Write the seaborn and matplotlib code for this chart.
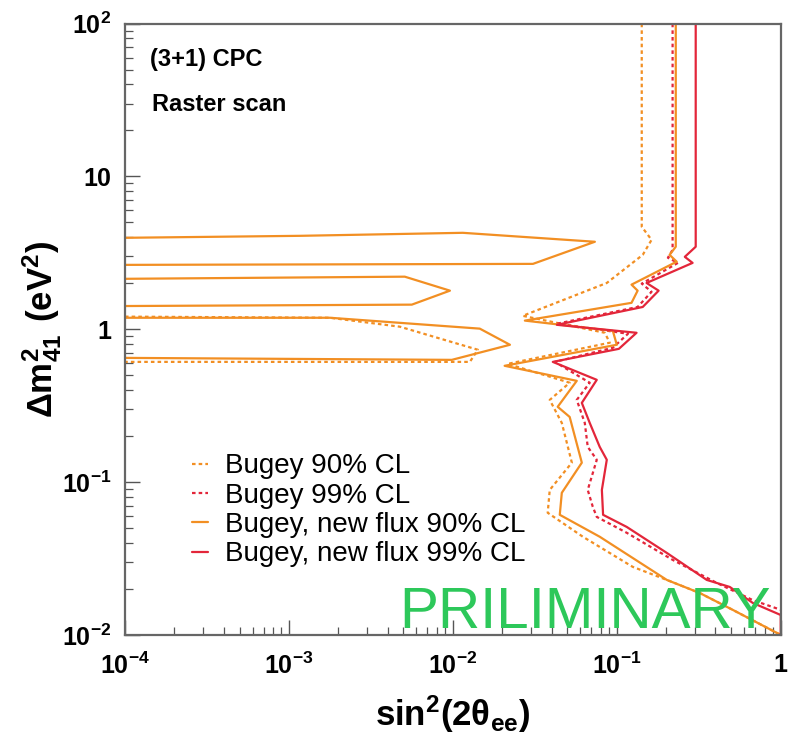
import pandas as pd
import seaborn as sns
import matplotlib.pyplot as plt

# Bugey 90% CL (old flux) - dotted orange
bugey90_x = [0.142, 0.142, 0.163, 0.144, 0.0869, 0.0267, 0.0845, 0.0906, 0.0216, 0.0516,
             0.039, 0.0462, 0.0532, 0.039, 0.0379, 0.0621, 0.125, 0.202, 0.321, 0.509, 1.0]
bugey90_y = [100, 4.69, 3.85, 3.07, 2.01, 1.225, 0.949, 0.817, 0.594, 0.447,
             0.345, 0.244, 0.134, 0.0889, 0.063, 0.0439, 0.0279, 0.0229, 0.0188, 0.0146, 0.01]
bugey90_island_x = [1e-4, 0.00178, 0.00475, 0.0142, 0.0127, 1e-4]
bugey90_island_y = [1.21, 1.19, 1.04, 0.735, 0.612, 0.612]

# Bugey 99% CL (old flux) - dotted red
bugey99_x = [0.219, 0.219, 0.205, 0.236, 0.142, 0.163, 0.134, 0.0436, 0.117, 0.0946, 0.0419,
             0.0684, 0.057, 0.0638, 0.0665, 0.0755, 0.0665, 0.0714, 0.0755, 0.115, 0.219,
             0.407, 0.675, 1.0]
bugey99_y = [100, 3.31, 2.94, 2.72, 1.99, 1.76, 1.40, 1.09, 0.935, 0.757, 0.612,
             0.447, 0.345, 0.244, 0.170, 0.140, 0.0889, 0.0689, 0.0592, 0.0466, 0.031,
             0.0219, 0.0169, 0.0146]

# Bugey, new flux 90% CL - solid orange
new90_x = [0.229, 0.229, 0.210, 0.232, 0.123, 0.134, 0.123, 0.0275, 0.0946, 0.1, 0.0207,
           0.057, 0.0436, 0.0516, 0.0612, 0.0462, 0.0449, 0.0787, 0.202, 0.321, 0.509, 1.0]
new90_y = [100, 3.47, 3.07, 2.77, 1.96, 1.79, 1.49, 1.14, 0.977, 0.792, 0.577,
           0.46, 0.311, 0.267, 0.134, 0.0851, 0.0611, 0.0439, 0.0229, 0.0188, 0.0146, 0.01]
new90_islands = [
    ([1e-4, 0.00117, 0.0115, 0.0735, 0.0308, 1e-4], [3.97, 4.09, 4.28, 3.74, 2.68, 2.64]),
    ([1e-4, 0.00509, 0.0096, 0.00562, 1e-4], [2.14, 2.21, 1.79, 1.45, 1.42]),
    ([1e-4, 0.00178, 0.0146, 0.0223, 0.00986, 1e-4], [1.19, 1.19, 1.01, 0.792, 0.631, 0.65]),
]

# Bugey, new flux 99% CL - solid red
new99_x = [0.303, 0.303, 0.260, 0.290, 0.152, 0.180, 0.144, 0.0431, 0.132, 0.103, 0.0407,
           0.0755, 0.0612, 0.0684, 0.0787, 0.0869, 0.0811, 0.0825, 0.115, 0.202, 0.354,
           0.489, 0.675, 1.0, 1.0]
new99_y = [100, 3.47, 2.98, 2.72, 2.01, 1.79, 1.40, 1.07, 0.949, 0.745, 0.612,
           0.467, 0.330, 0.244, 0.170, 0.140, 0.0889, 0.0611, 0.0509, 0.0344, 0.0229,
           0.0206, 0.0162, 0.0135, 0.01]

x_ticks = [1e-4, 1e-3, 1e-2, 1e-1, 1]
x_ticklabels = [r'$\mathbf{10^{-4}}$', r'$\mathbf{10^{-3}}$', r'$\mathbf{10^{-2}}$',
                r'$\mathbf{10^{-1}}$', '1']
y_ticks = [1e-2, 1e-1, 1, 10, 100]
y_ticklabels = [r'$\mathbf{10^{-2}}$', r'$\mathbf{10^{-1}}$', '1', '10', r'$\mathbf{10^{2}}$']

orange = '#f28f23'
red = '#e3263a'

sns.set_style('ticks')
plt.rcParams['font.family'] = ['Liberation Sans', 'DejaVu Sans']
plt.rcParams['mathtext.fontset'] = 'custom'
plt.rcParams['mathtext.rm'] = 'Liberation Sans'
plt.rcParams['mathtext.bf'] = 'Liberation Sans:bold'
plt.rcParams['font.weight'] = 'bold'
plt.rcParams['axes.unicode_minus'] = False
plt.rcParams['text.color'] = 'black'
plt.rcParams['axes.labelcolor'] = 'black'
plt.rcParams['xtick.labelcolor'] = 'black'
plt.rcParams['ytick.labelcolor'] = 'black'

fig = plt.figure(figsize=(7.91, 7.4), dpi=100)
ax = fig.add_axes([0.158, 0.142, 0.829, 0.826])

dot = (0, (1.6, 1.4))
lw = 1.6


def draw(xs, ys, color, ls, label=None):
    df = pd.DataFrame({'x': xs, 'y': ys})
    sns.lineplot(data=df, x='x', y='y', sort=False, estimator=None, color=color,
                 linestyle=ls, linewidth=lw, ax=ax, label=label,
                 legend=label is not None)


draw(bugey90_x, bugey90_y, orange, dot, 'Bugey 90% CL')
draw(bugey99_x, bugey99_y, red, dot, 'Bugey 99% CL')
draw(new90_x, new90_y, orange, '-', 'Bugey, new flux 90% CL')
draw(new99_x, new99_y, red, '-', 'Bugey, new flux 99% CL')
draw(bugey90_island_x, bugey90_island_y, orange, dot)
for ix, iy in new90_islands:
    draw(ix, iy, orange, '-')

ax.set_xscale('log')
ax.set_yscale('log')
ax.set_xlim(1e-4, 1)
ax.set_ylim(1e-2, 100)
ax.set_xticks(x_ticks)
ax.set_xticklabels(x_ticklabels)
ax.set_yticks(y_ticks)
ax.set_yticklabels(y_ticklabels)
ax.tick_params(which='both', direction='in', labelsize=18, color='#555555')
ax.tick_params(which='major', length=11, width=1.0)
ax.tick_params(axis='x', which='major', pad=13)
ax.tick_params(axis='y', which='major', pad=10)
ax.tick_params(which='minor', length=5.5, width=0.9)
for s in ax.spines.values():
    s.set_color('#666666')
    s.set_linewidth(1.6)

ax.set_xlabel(r'$\mathbf{sin^{2}(2\theta_{ee})}$', fontsize=25, labelpad=10)
ax.set_ylabel(r'$\mathbf{\Delta m^{2}_{41}\ (eV^{2})}$', fontsize=25, labelpad=-2)

ax.text(0.038, 0.941, '(3+1) CPC', transform=ax.transAxes, fontsize=17,
        fontweight='bold', va='center')
ax.text(0.041, 0.867, 'Raster scan', transform=ax.transAxes, fontsize=17,
        fontweight='bold', va='center')

leg = ax.legend(loc='upper left', bbox_to_anchor=(0.085, 0.315), frameon=False,
                fontsize=20, handlelength=0.6, handletextpad=0.6, labelspacing=0.12,
                borderaxespad=0)
for t in leg.get_texts():
    t.set_fontweight('normal')
    t.set_color('black')

ax.text(0.419, 0.011, 'PRILIMINARY', transform=ax.transAxes, fontsize=42,
        fontweight='normal', color='#2dc85a', va='baseline', zorder=10, clip_on=False)

fig.savefig('out.png', dpi=100)
